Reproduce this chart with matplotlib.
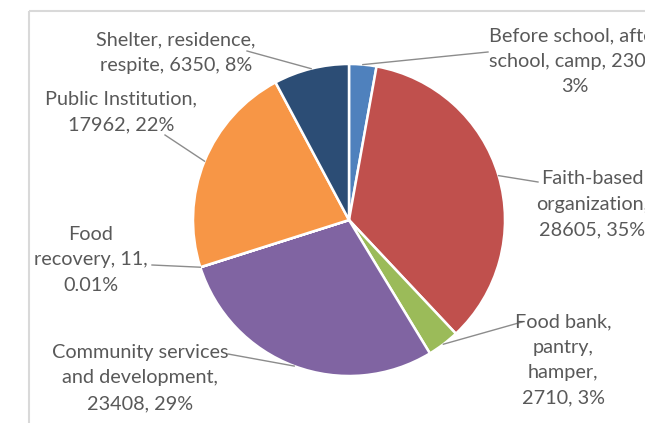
import matplotlib.pyplot as plt
import numpy as np
from matplotlib.patches import Rectangle

plt.rcParams['font.family'] = ['Lato', 'DejaVu Sans']

# food distribution by agency type
categories = ['Before school, after school, camp', 'Faith-based organization',
              'Food bank, pantry, hamper', 'Community services and development',
              'Food recovery', 'Public Institution', 'Shelter, residence, respite']
values = [2300, 28605, 2710, 23408, 11, 17962, 6350]
label_formats = ['Before school, after\nschool, camp, {v},\n{p}',
                 'Faith-based\norganization,\n{v}, {p}',
                 'Food bank,\npantry,\nhamper,\n{v}, {p}',
                 'Community services\nand development,\n{v}, {p}',
                 'Food\nrecovery, {v},\n{p}',
                 'Public Institution,\n{v}, {p}',
                 'Shelter, residence,\nrespite, {v}, {p}']
colors = ['#4F81BD', '#C0504D', '#9BBB59', '#8064A2', '#4BACC6', '#F79646', '#2C4D75']

# label centres and where each leader line meets its label (pixels from top-left)
label_xy = [(575, 61), (592, 204), (563, 360), (140, 378), (91, 260), (121, 112), (176, 53)]
leader_end = [(488, 52), (538, 182), (522, 322), (228, 354), (152, 265), (165, 135), (247, 51)]

W, H = 645, 423
fig = plt.figure(figsize=(W / 100, H / 100), dpi=100)
ax = fig.add_axes([0, 0, 1, 1])

cx, cy, r = 349, 220, 156
wedges, _ = ax.pie(values, colors=colors, center=(cx, cy), radius=r,
                   startangle=-90, counterclock=True, frame=True,
                   wedgeprops=dict(edgecolor='white', linewidth=1.8))
ax.set_xlim(0, W)
ax.set_ylim(H, 0)
ax.set_aspect('equal')
ax.axis('off')

# chart area border
ax.add_patch(Rectangle((29, 11), 700, 500, fill=False, edgecolor='#D9D9D9',
                       linewidth=1.5, clip_on=True))

total = sum(values)
for w, v, fmt, (tx, ty), (ex, ey) in zip(wedges, values, label_formats, label_xy, leader_end):
    pct = v / total * 100
    p = f'{pct:.2f}%' if pct < 1 else f'{pct:.0f}%'
    ax.text(tx, ty, fmt.format(v=v, p=p), ha='center', va='center',
            multialignment='center', fontsize=14.3, color='#595959', linespacing=1.6)
    mid = np.radians((w.theta1 + w.theta2) / 2)
    sx, sy = cx + r * np.cos(mid), cy + r * np.sin(mid)
    ax.plot([sx, ex], [sy, ey], color='#8C8C8C', linewidth=1.0)

fig.savefig('out.png', dpi=100)
